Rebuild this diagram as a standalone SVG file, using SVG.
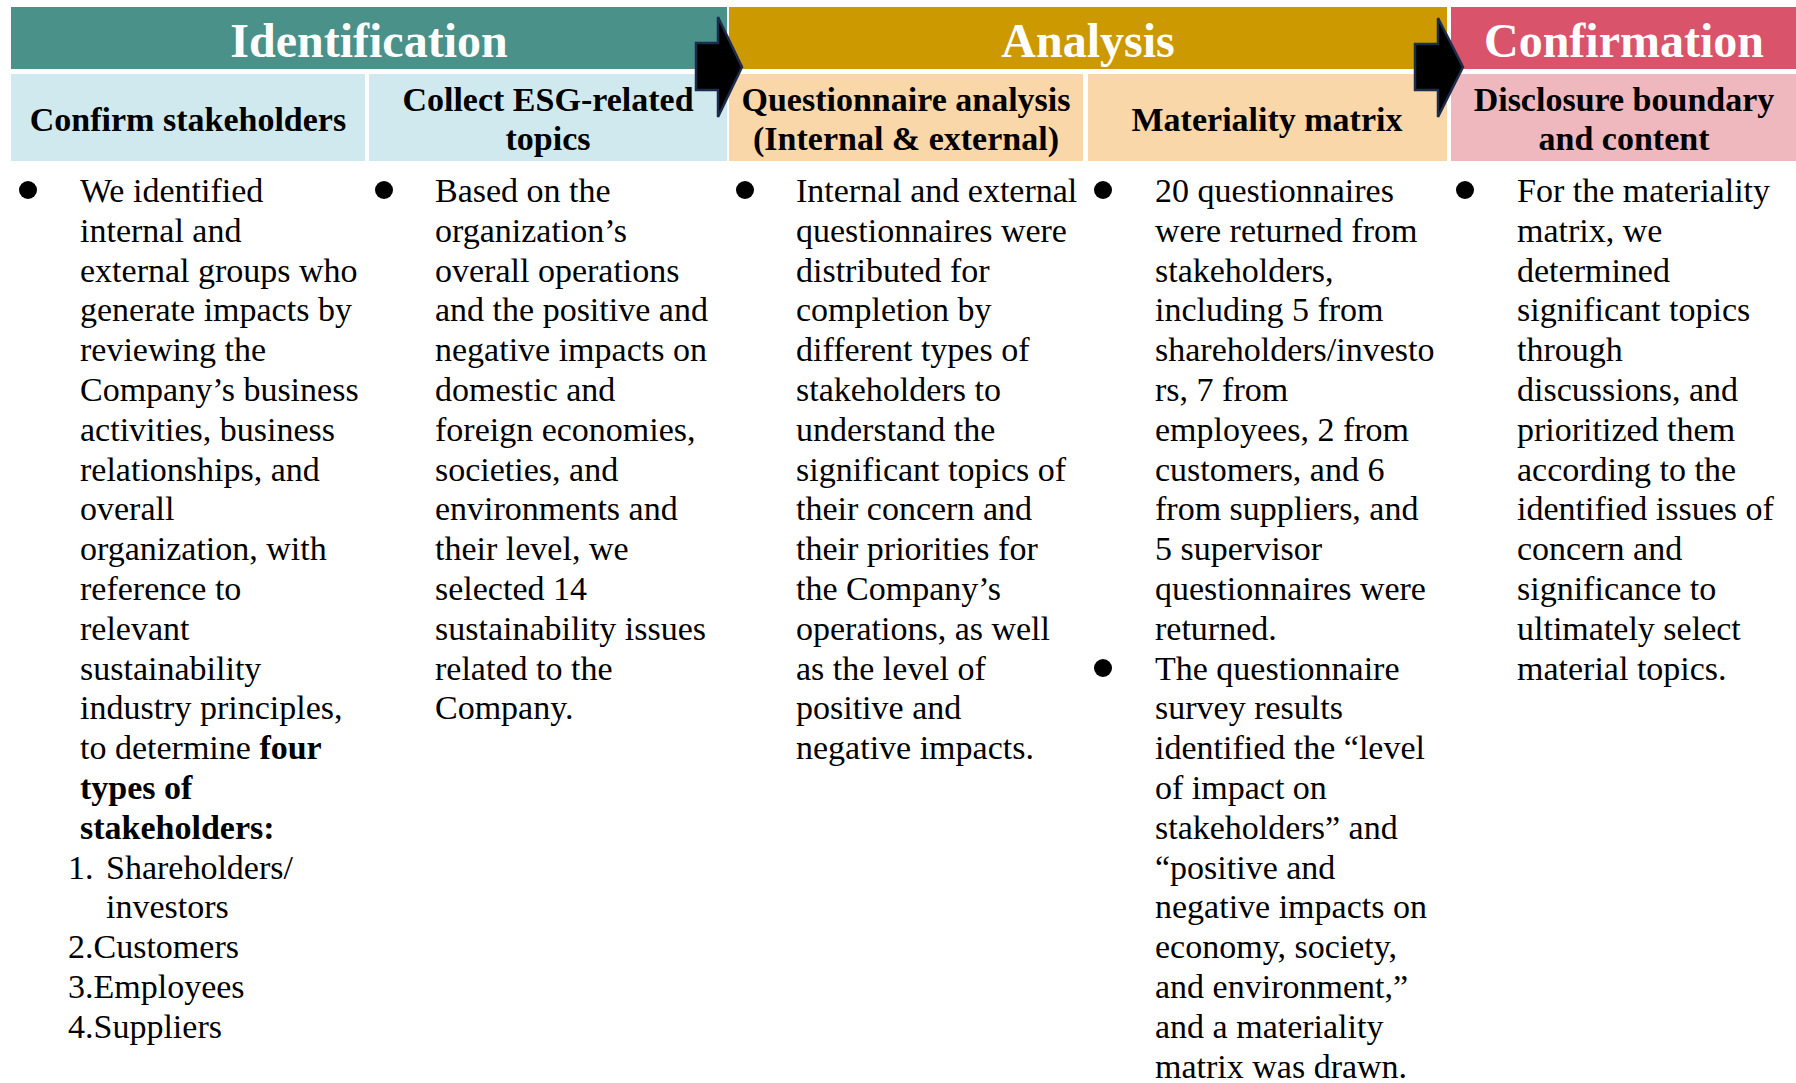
<svg xmlns="http://www.w3.org/2000/svg" width="1796" height="1083" viewBox="0 0 1796 1083">
  <style>
    .phase { font-family: "Liberation Serif", "Times New Roman", serif; font-weight: bold; font-size: 48px; fill: #ffffff; text-anchor: middle; }
    .step { font-family: "Liberation Serif", "Times New Roman", serif; font-weight: bold; font-size: 34px; fill: #000000; text-anchor: middle; }
    .body { font-family: "Liberation Serif", "Times New Roman", serif; font-size: 34px; fill: #000000; }
    .b { font-weight: bold; }
    .dot { fill: #000000; }
    .flow { fill: #000000; stroke: #1c2c4c; stroke-width: 2.5; stroke-linejoin: miter; }
  </style>

  <rect width="1796" height="1083" fill="#ffffff"/>

  <!-- phase bands -->
  <g id="phase-identification">
    <rect x="11" y="7" width="716" height="62" fill="#4a918a"/>
    <text class="phase" x="369" y="57">Identification</text>
  </g>
  <g id="phase-analysis">
    <rect x="729" y="7" width="718" height="62" fill="#cc9900"/>
    <text class="phase" x="1088" y="57">Analysis</text>
  </g>
  <g id="phase-confirmation">
    <rect x="1451" y="7" width="345" height="62" fill="#d9536b"/>
    <text class="phase" x="1624" y="57">Confirmation</text>
  </g>

  <!-- step headers -->
  <g id="step-confirm-stakeholders">
    <rect x="11" y="74" width="354" height="87" fill="#d0e9ee"/>
    <text class="step" x="188" y="131">Confirm stakeholders</text>
  </g>
  <g id="step-collect-topics">
    <rect x="369" y="74" width="358" height="87" fill="#d0e9ee"/>
    <text class="step" x="548" y="111">Collect ESG-related</text>
    <text class="step" x="548" y="150">topics</text>
  </g>
  <g id="step-questionnaire-analysis">
    <rect x="729" y="74" width="354" height="87" fill="#fad7a9"/>
    <text class="step" x="906" y="111">Questionnaire analysis</text>
    <text class="step" x="906" y="150">(Internal &amp; external)</text>
  </g>
  <g id="step-materiality-matrix">
    <rect x="1088" y="74" width="359" height="87" fill="#fad7a9"/>
    <text class="step" x="1267" y="131">Materiality matrix</text>
  </g>
  <g id="step-disclosure">
    <rect x="1451" y="74" width="345" height="87" fill="#eeb8be"/>
    <text class="step" x="1624" y="111">Disclosure boundary</text>
    <text class="step" x="1624" y="150">and content</text>
  </g>

  <!-- descriptions under each step -->
  <g id="text-confirm-stakeholders">
    <circle class="dot" cx="28" cy="190" r="9"/>
    <text class="body" x="80" y="202">
      <tspan x="80" y="202">We identified</tspan>
      <tspan x="80" dy="39.8">internal and</tspan>
      <tspan x="80" dy="39.8">external groups who</tspan>
      <tspan x="80" dy="39.8">generate impacts by</tspan>
      <tspan x="80" dy="39.8">reviewing the</tspan>
      <tspan x="80" dy="39.8">Company’s business</tspan>
      <tspan x="80" dy="39.8">activities, business</tspan>
      <tspan x="80" dy="39.8">relationships, and</tspan>
      <tspan x="80" dy="39.8">overall</tspan>
      <tspan x="80" dy="39.8">organization, with</tspan>
      <tspan x="80" dy="39.8">reference to</tspan>
      <tspan x="80" dy="39.8">relevant</tspan>
      <tspan x="80" dy="39.8">sustainability</tspan>
      <tspan x="80" dy="39.8">industry principles,</tspan>
      <tspan x="80" dy="39.8">to determine <tspan class="b">four</tspan></tspan>
      <tspan x="80" dy="39.8" class="b">types of</tspan>
      <tspan x="80" dy="39.8" class="b">stakeholders:</tspan>
      <tspan x="68" dy="39.8">1.</tspan><tspan x="106">Shareholders/</tspan>
      <tspan x="106" dy="39.8">investors</tspan>
      <tspan x="68" dy="39.8">2.Customers</tspan>
      <tspan x="68" dy="39.8">3.Employees</tspan>
      <tspan x="68" dy="39.8">4.Suppliers</tspan>
    </text>
  </g>

  <g id="text-collect-topics">
    <circle class="dot" cx="384" cy="190" r="9"/>
    <text class="body" x="435" y="202">
      <tspan x="435" y="202">Based on the</tspan>
      <tspan x="435" dy="39.8">organization’s</tspan>
      <tspan x="435" dy="39.8">overall operations</tspan>
      <tspan x="435" dy="39.8">and the positive and</tspan>
      <tspan x="435" dy="39.8">negative impacts on</tspan>
      <tspan x="435" dy="39.8">domestic and</tspan>
      <tspan x="435" dy="39.8">foreign economies,</tspan>
      <tspan x="435" dy="39.8">societies, and</tspan>
      <tspan x="435" dy="39.8">environments and</tspan>
      <tspan x="435" dy="39.8">their level, we</tspan>
      <tspan x="435" dy="39.8">selected 14</tspan>
      <tspan x="435" dy="39.8">sustainability issues</tspan>
      <tspan x="435" dy="39.8">related to the</tspan>
      <tspan x="435" dy="39.8">Company.</tspan>
    </text>
  </g>

  <g id="text-questionnaire-analysis">
    <circle class="dot" cx="745" cy="190" r="9"/>
    <text class="body" x="796" y="202">
      <tspan x="796" y="202">Internal and external</tspan>
      <tspan x="796" dy="39.8">questionnaires were</tspan>
      <tspan x="796" dy="39.8">distributed for</tspan>
      <tspan x="796" dy="39.8">completion by</tspan>
      <tspan x="796" dy="39.8">different types of</tspan>
      <tspan x="796" dy="39.8">stakeholders to</tspan>
      <tspan x="796" dy="39.8">understand the</tspan>
      <tspan x="796" dy="39.8">significant topics of</tspan>
      <tspan x="796" dy="39.8">their concern and</tspan>
      <tspan x="796" dy="39.8">their priorities for</tspan>
      <tspan x="796" dy="39.8">the Company’s</tspan>
      <tspan x="796" dy="39.8">operations, as well</tspan>
      <tspan x="796" dy="39.8">as the level of</tspan>
      <tspan x="796" dy="39.8">positive and</tspan>
      <tspan x="796" dy="39.8">negative impacts.</tspan>
    </text>
  </g>

  <g id="text-materiality-matrix">
    <circle class="dot" cx="1103" cy="190" r="9"/>
    <circle class="dot" cx="1103" cy="668" r="9"/>
    <text class="body" x="1155" y="202">
      <tspan x="1155" y="202">20 questionnaires</tspan>
      <tspan x="1155" dy="39.8">were returned from</tspan>
      <tspan x="1155" dy="39.8">stakeholders,</tspan>
      <tspan x="1155" dy="39.8">including 5 from</tspan>
      <tspan x="1155" dy="39.8">shareholders/investo</tspan>
      <tspan x="1155" dy="39.8">rs, 7 from</tspan>
      <tspan x="1155" dy="39.8">employees, 2 from</tspan>
      <tspan x="1155" dy="39.8">customers, and 6</tspan>
      <tspan x="1155" dy="39.8">from suppliers, and</tspan>
      <tspan x="1155" dy="39.8">5 supervisor</tspan>
      <tspan x="1155" dy="39.8">questionnaires were</tspan>
      <tspan x="1155" dy="39.8">returned.</tspan>
      <tspan x="1155" dy="39.8">The questionnaire</tspan>
      <tspan x="1155" dy="39.8">survey results</tspan>
      <tspan x="1155" dy="39.8">identified the “level</tspan>
      <tspan x="1155" dy="39.8">of impact on</tspan>
      <tspan x="1155" dy="39.8">stakeholders” and</tspan>
      <tspan x="1155" dy="39.8">“positive and</tspan>
      <tspan x="1155" dy="39.8">negative impacts on</tspan>
      <tspan x="1155" dy="39.8">economy, society,</tspan>
      <tspan x="1155" dy="39.8">and environment,”</tspan>
      <tspan x="1155" dy="39.8">and a materiality</tspan>
      <tspan x="1155" dy="39.8">matrix was drawn.</tspan>
    </text>
  </g>

  <g id="text-disclosure">
    <circle class="dot" cx="1465" cy="190" r="9"/>
    <text class="body" x="1517" y="202">
      <tspan x="1517" y="202">For the materiality</tspan>
      <tspan x="1517" dy="39.8">matrix, we</tspan>
      <tspan x="1517" dy="39.8">determined</tspan>
      <tspan x="1517" dy="39.8">significant topics</tspan>
      <tspan x="1517" dy="39.8">through</tspan>
      <tspan x="1517" dy="39.8">discussions, and</tspan>
      <tspan x="1517" dy="39.8">prioritized them</tspan>
      <tspan x="1517" dy="39.8">according to the</tspan>
      <tspan x="1517" dy="39.8">identified issues of</tspan>
      <tspan x="1517" dy="39.8">concern and</tspan>
      <tspan x="1517" dy="39.8">significance to</tspan>
      <tspan x="1517" dy="39.8">ultimately select</tspan>
      <tspan x="1517" dy="39.8">material topics.</tspan>
    </text>
  </g>

  <!-- block arrows between phases -->
  <g id="connectors">
    <polygon class="flow" points="696,43 718,43 718,17 742,67 718,117 718,90 696,90"/>
    <polygon class="flow" points="1415,44 1438,44 1438,18 1463,67 1438,117 1438,90 1415,90"/>
  </g>
</svg>
